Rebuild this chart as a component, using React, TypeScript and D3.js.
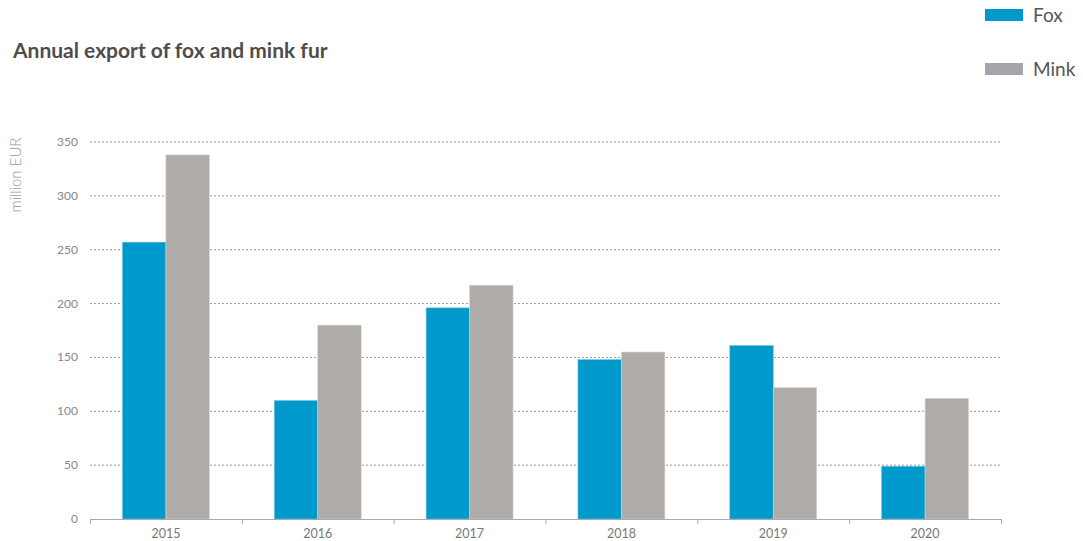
import React from "react";
import * as d3 from "d3";

const years = ["2015", "2016", "2017", "2018", "2019", "2020"];
const fox = [257, 110, 196, 148, 161, 49];
const mink = [338, 180, 217, 155, 122, 112];
const yTicks = [0, 50, 100, 150, 200, 250, 300, 350];
const seriesNames = ["Fox", "Mink"];

const W = 1083, H = 541;
const M = { left: 90, right: 1001, top: 142, bottom: 519 };
const FOX_C = "#0099cc";
const MINK_C = "#afaba9";
const MINK_LEGEND = "#a7a4ac";
const FONT = "Lato, 'Open Sans', sans-serif";

export default function App() {
  const x = d3.scaleBand().domain(years).range([M.left, M.right]).paddingInner(0).paddingOuter(0);
  const inner = d3.scaleBand().domain(seriesNames).range([0, x.bandwidth()]).paddingInner(0).paddingOuter(0.747);
  const y = d3.scaleLinear().domain([0, 350]).range([M.bottom, M.top]);
  const data = [fox, mink];
  const colors = [FOX_C, MINK_C];
  const boundaries = years.map((yr) => x(yr)!).concat([M.right]);

  return (
    <svg width={W} height={H} style={{ position: "absolute", left: 0, top: 0 }} fontFamily={FONT}>
      <text x={13} y={58} fontSize={21} fontWeight="bold" fill="#4d4d4d">Annual export of fox and mink fur</text>
      {seriesNames.map((s, i) => (
        <g key={s}>
          <rect x={985} y={9 + i * 54} width={38} height={12} fill={i === 0 ? FOX_C : MINK_LEGEND} />
          <text x={1033} y={22 + i * 54} fontSize={19} fill="#555">{s}</text>
        </g>
      ))}
      <text transform={`translate(21,175) rotate(-90)`} textAnchor="middle" fontSize={15} fontWeight={300} fill="#999">million EUR</text>
      {yTicks.map((t) => (
        <g key={t}>
          {t > 0 && (
            <line x1={M.left} x2={M.right} y1={y(t)} y2={y(t)} stroke="#999" strokeWidth={1} strokeDasharray="2,2" />
          )}
          <text x={78} y={y(t) + 4} textAnchor="end" fontSize={12} fill="#888">{t}</text>
        </g>
      ))}
      {years.map((yr, yi) =>
        data.map((arr, si) => (
          <rect
            key={yr + si}
            x={x(yr)! + inner(seriesNames[si])!}
            y={y(arr[yi])}
            width={inner.bandwidth()}
            height={y(0) - y(arr[yi])}
            fill={colors[si]}
            stroke={si === 0 ? "#6cc3e4" : "#d6d3d1"}
            strokeWidth={0.6}
          />
        ))
      )}
      <line x1={M.left} x2={M.right} y1={M.bottom + 0.5} y2={M.bottom + 0.5} stroke="#aaa" strokeWidth={1} />
      {boundaries.map((b, i) => (
        <line key={i} x1={b + 0.5} x2={b + 0.5} y1={M.bottom} y2={M.bottom + 5} stroke="#aaa" strokeWidth={1} />
      ))}
      {years.map((yr) => (
        <text key={yr} x={x(yr)! + x.bandwidth() / 2} y={538} textAnchor="middle" fontSize={12.5} fill="#777">{yr}</text>
      ))}
    </svg>
  );
}
